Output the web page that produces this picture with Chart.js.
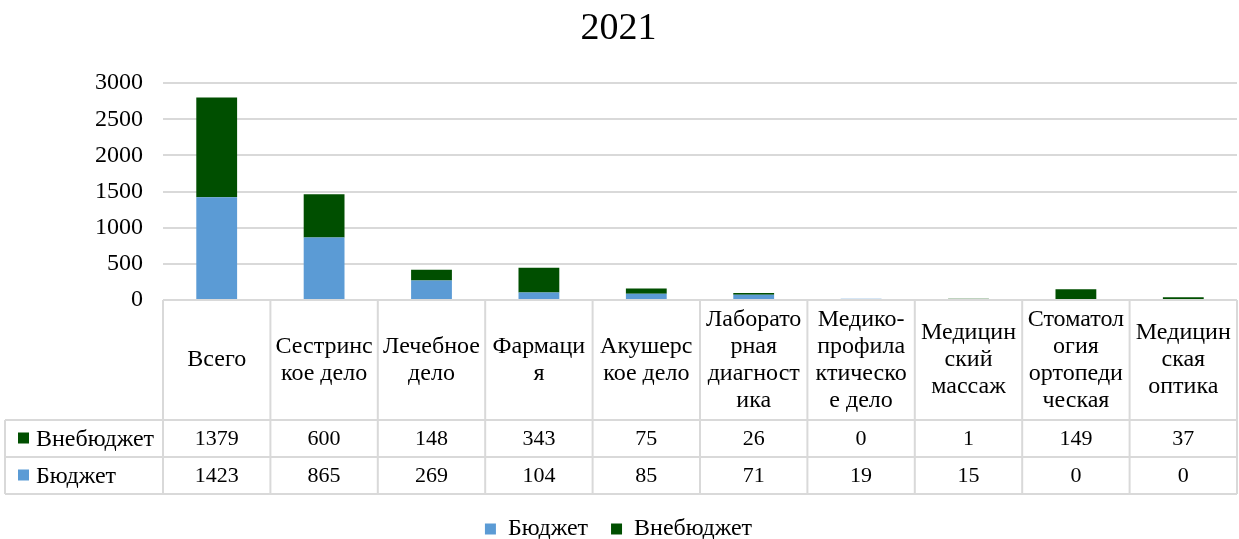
<!DOCTYPE html>
<html lang="ru">
<head>
<meta charset="utf-8">
<title>2021</title>
<script src="https://cdn.jsdelivr.net/npm/chart.js@4.4.1/dist/chart.umd.min.js"></script>
<style>
    html, body { margin: 0; padding: 0; background: #fff; }
    #wrap { width: 1239px; height: 539px; }
</style>
</head>
<body>
<div id="wrap"><canvas id="grafica"></canvas></div>
<script>
// --- DATOS ---
const categorias = [
    ["Всего"],
    ["Сестринс", "кое дело"],
    ["Лечебное", "дело"],
    ["Фармаци", "я"],
    ["Акушерс", "кое дело"],
    ["Лаборато", "рная", "диагност", "ика"],
    ["Медико-", "профила", "ктическо", "е дело"],
    ["Медицин", "ский", "массаж"],
    ["Стоматол", "огия", "ортопеди", "ческая"],
    ["Медицин", "ская", "оптика"]
];
const budget = [1423, 865, 269, 104, 85, 71, 19, 15, 0, 0];
const offBudget = [1379, 600, 148, 343, 75, 26, 0, 1, 149, 37];
const yTicks = [0, 500, 1000, 1500, 2000, 2500, 3000];

const COLORES = { budget: '#5b9bd5', offBudget: '#004f00', grid: '#d9d9d9' };
const FUENTE = "'Liberation Serif', 'Times New Roman', serif";

// --- TABLA DE DATOS DEBAJO DEL GRÁFICO ---
const tablaPlugin = {
    id: 'tabla',
    afterDraw(chart) {
        const ctx = chart.ctx;
        const x = chart.scales.x;
        const top = chart.chartArea.bottom;
        const hHead = 120, hRow = 37;
        const n = categorias.length;
        const ancho = (x.right - x.left) / n;
        const izq = 5;
        const r1 = top + hHead, r2 = r1 + hRow, r3 = r2 + hRow;

        ctx.save();
        ctx.strokeStyle = COLORES.grid;
        ctx.lineWidth = 2;
        ctx.beginPath();
        ctx.moveTo(x.left, top); ctx.lineTo(x.right, top);
        [r1, r2, r3].forEach(y => { ctx.moveTo(izq, y); ctx.lineTo(x.right, y); });
        ctx.moveTo(izq, r1); ctx.lineTo(izq, r3);
        for (let i = 0; i <= n; i++) {
            const xx = x.left + i * ancho;
            ctx.moveTo(xx, top); ctx.lineTo(xx, r3);
        }
        ctx.stroke();

        ctx.fillStyle = '#000';
        ctx.textAlign = 'center';
        ctx.textBaseline = 'middle';
        const lh = 27;
        categorias.forEach((lineas, i) => {
            const cx = x.getPixelForValue(i);
            const y0 = top + hHead / 2 - (lineas.length - 1) * lh / 2;
            ctx.font = `24px ${FUENTE}`;
            lineas.forEach((t, k) => ctx.fillText(t, cx, y0 + k * lh));
            ctx.font = `22px ${FUENTE}`;
            ctx.fillText(String(offBudget[i]), cx, r1 + hRow / 2 + 1);
            ctx.fillText(String(budget[i]), cx, r2 + hRow / 2 + 1);
        });

        ctx.textAlign = 'left';
        ctx.font = `24px ${FUENTE}`;
        [['Внебюджет', COLORES.offBudget, r1], ['Бюджет', COLORES.budget, r2]].forEach(([nombre, color, y]) => {
            ctx.fillStyle = color;
            ctx.fillRect(18, y + hRow / 2 - 6, 11, 11);
            ctx.fillStyle = '#000';
            ctx.fillText(nombre, 36, y + hRow / 2 + 1);
        });
        ctx.restore();
    }
};

const ctx = document.getElementById('grafica').getContext('2d');
new Chart(ctx, {
    type: 'bar',
    data: {
        labels: categorias,
        datasets: [
            { label: 'Бюджет', data: budget, backgroundColor: COLORES.budget, barPercentage: 0.38, categoryPercentage: 1 },
            { label: 'Внебюджет', data: offBudget, backgroundColor: COLORES.offBudget, barPercentage: 0.38, categoryPercentage: 1 }
        ]
    },
    options: {
        responsive: true,
        maintainAspectRatio: false,
        animation: false,
        layout: { padding: { left: 0, right: 2, top: 0, bottom: 0 } },
        scales: {
            x: {
                stacked: true,
                grid: { display: false },
                border: { display: false },
                ticks: { display: false },
                afterFit: s => { s.height = 194; }
            },
            y: {
                stacked: true,
                min: 0,
                max: 3000,
                afterBuildTicks: s => { s.ticks = yTicks.map(v => ({ value: v })); },
                grid: { color: COLORES.grid, lineWidth: 2, drawTicks: false },
                border: { display: false },
                ticks: {
                    color: '#000',
                    padding: 20,
                    font: { family: FUENTE, size: 24 },
                    callback: v => String(v)
                },
                afterFit: s => { s.width = 163; }
            }
        },
        plugins: {
            title: {
                display: true,
                text: '2021',
                color: '#000',
                font: { family: FUENTE, size: 38, weight: 'normal' },
                padding: { top: 6, bottom: 31.6 }
            },
            legend: {
                position: 'bottom',
                maxHeight: 45,
                labels: {
                    color: '#000',
                    boxWidth: 11,
                    boxHeight: 11,
                    padding: 23,
                    font: { family: FUENTE, size: 24 }
                }
            },
            tooltip: { enabled: false }
        }
    },
    plugins: [tablaPlugin]
});
</script>
</body>
</html>
